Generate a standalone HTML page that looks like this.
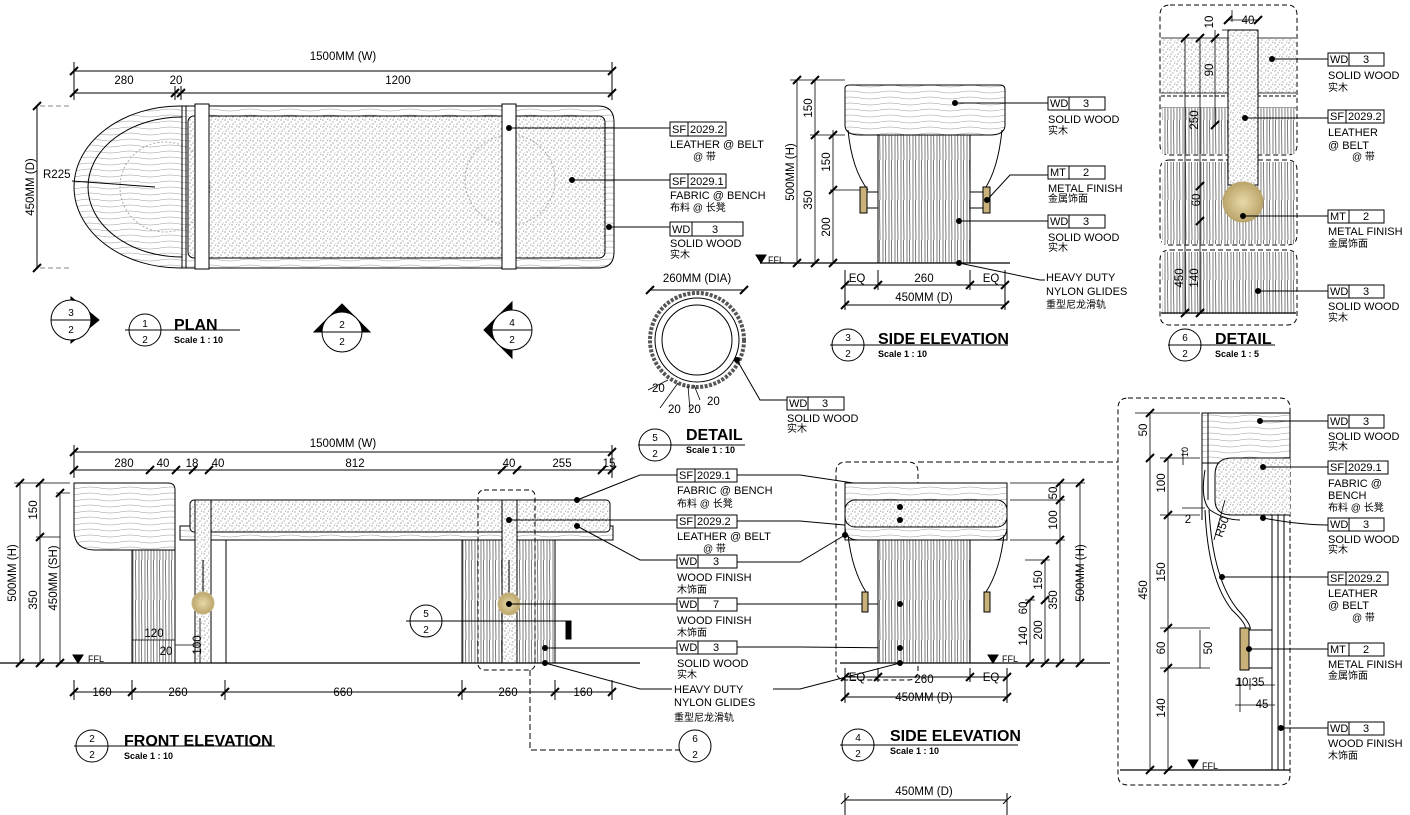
<!DOCTYPE html>
<html><head><meta charset="utf-8"><style>
html,body{margin:0;padding:0;background:#fff;}
svg{display:block;font-family:"Liberation Sans","Noto Sans CJK SC",sans-serif;}
.t{font-size:11px;fill:#000}
.c{font-size:10px;fill:#000}
.d{font-size:11.5px;fill:#000}
.h{font-size:16px;font-weight:bold;fill:#000}
.s{font-size:9px;font-weight:bold;fill:#000}
</style></head><body>
<svg width="1410" height="815" viewBox="0 0 1410 815" xmlns="http://www.w3.org/2000/svg">
<defs>
<pattern id="st" width="7" height="7" patternUnits="userSpaceOnUse">
<rect width="7" height="7" fill="#fff"/>
<circle cx="1" cy="1" r="0.6" fill="#777"/><circle cx="4" cy="3" r="0.6" fill="#888"/><circle cx="2" cy="5" r="0.6" fill="#777"/><circle cx="6" cy="6" r="0.5" fill="#999"/><circle cx="5.5" cy="0.5" r="0.5" fill="#999"/>
</pattern>
<pattern id="vg" width="6" height="40" patternUnits="userSpaceOnUse">
<rect width="6" height="40" fill="#fff"/><path d="M1 0V40M3.5 0L4 40" stroke="#444" stroke-width="0.7"/>
</pattern>
<pattern id="hg" width="40" height="6" patternUnits="userSpaceOnUse">
<rect width="40" height="6" fill="#fff"/><path d="M0 2Q10 0 20 2T40 2" stroke="#999" stroke-width="0.6" fill="none"/>
</pattern>
<radialGradient id="br"><stop offset="0" stop-color="#e8d9a8"/><stop offset="1" stop-color="#bba56a"/></radialGradient>
</defs>
<g stroke="#000" stroke-width="1" fill="none">

<!-- ============ PLAN ============ -->
<path d="M74 71H612M74 93H612M74 62V100M612 62V100M175 86V100M181 86V100"/>
<path d="M70 75L78 67M608 75L616 67M70 97L78 89M608 97L616 89M171 97L179 89M177 97L185 89" stroke-width="2"/>
<path d="M37 106V268"/>
<path d="M33 110L41 102M33 272L41 264" stroke-width="2"/>
<path d="M40 106H72M40 268H72" stroke-dasharray="5 3" stroke="#888"/>
<path d="M180 106H598Q614 106 614 122V252Q614 268 598 268H180A106 81 0 0 1 180 106Z" fill="url(#hg)"/>
<path d="M182 117A94 70 0 0 0 182 257" />
<rect x="188" y="116" width="417" height="142" rx="6" fill="url(#st)"/>
<circle cx="510" cy="180" r="45" stroke="#aaa" stroke-dasharray="2 2"/>
<circle cx="165" cy="187" r="45" stroke="#aaa" stroke-dasharray="2 2"/>
<path d="M182 106V268M186 106V268"/>
<rect x="195" y="104" width="14" height="165" fill="#fff"/>
<rect x="502" y="104" width="14" height="165" fill="#fff"/>
<path d="M72 181L155 187"/>
<path d="M509 128H670M572 180H670M609 227H670"/>
<circle cx="509" cy="128" r="2.5" fill="#000"/><circle cx="572" cy="180" r="2.5" fill="#000"/><circle cx="609" cy="227" r="2.5" fill="#000"/>

<!-- markers -->
<path d="M71 297L99 320L71 343Z" fill="#000"/>
<circle cx="71" cy="320" r="20" fill="#fff"/><path d="M51 320H91"/>
<circle cx="145" cy="330" r="16"/><path d="M125 330H240"/>
<path d="M314 332L342 304L370 332Z" fill="#000"/><circle cx="342" cy="332" r="20" fill="#fff"/><path d="M322 332H362"/>
<path d="M484 330L512 302V358Z" fill="#000"/><circle cx="512" cy="330" r="20" fill="#fff"/><path d="M492 330H532"/>

<!-- ============ DETAIL 5 ============ -->
<path d="M650 290H744"/>
<path d="M646 294L654 286M740 294L748 286" stroke-width="2"/>
<circle cx="697" cy="340" r="47" stroke-width="4" stroke="#555" stroke-dasharray="3 1.5"/>
<circle cx="697" cy="340" r="42"/>
<circle cx="697" cy="340" r="35"/>
<path d="M737 360L760 400H787"/><circle cx="737" cy="360" r="2.5" fill="#000"/>
<path d="M648 390L668 380M660 408L678 383M690 410L688 386M700 400L694 385" stroke-width="0.8"/>
<circle cx="655" cy="445" r="16"/><path d="M638 445H745"/>

<!-- ============ SIDE ELEVATION 3 ============ -->
<path d="M797 80V263M815 80V263M833 130V263M790 80H845M810 135H845M830 190H860" stroke-width="0.8"/>
<path d="M793 84L801 76M811 84L819 76M811 139L819 131M829 139L837 131M829 194L837 186M793 267L801 259M811 267L819 259M829 267L837 259" stroke-width="2"/>
<path d="M845 88Q845 85 850 85H1000Q1005 85 1005 90V125Q1005 135 990 135H860Q845 135 845 125Z" fill="url(#hg)"/>
<rect x="878" y="135" width="92" height="128" fill="url(#vg)"/>
<path d="M848 130Q852 170 868 190M1002 130Q998 170 984 190"/>
<rect x="860" y="187" width="7" height="26" fill="#c8b27a"/><rect x="983" y="187" width="7" height="26" fill="#c8b27a"/>
<path d="M867 192H878M867 208H878M970 192H983M970 208H983"/>
<path d="M760 263H1010" stroke-width="1.2"/>
<path d="M756 255H766L761 263Z" fill="#000"/>
<path d="M845 285H1005M845 305H1005M845 270V310M878 270V290M970 270V290M1005 270V310"/>
<path d="M841 289L849 281M874 289L882 281M966 289L974 281M1001 289L1009 281M841 309L849 301M1001 309L1009 301" stroke-width="2"/>
<path d="M955 103H1048M987 200L1010 175H1048M959 221H1048M959 263L1040 280H1045"/>
<circle cx="955" cy="103" r="2.5" fill="#000"/><circle cx="987" cy="200" r="2.5" fill="#000"/><circle cx="959" cy="221" r="2.5" fill="#000"/><circle cx="959" cy="263" r="2.5" fill="#000"/>
<circle cx="848" cy="345" r="16"/><path d="M830 345H1008"/>

<!-- ============ DETAIL 6 (top right) ============ -->
<path d="M1170 5H1287Q1297 5 1297 15V145Q1297 155 1287 155H1170Q1160 155 1160 145V15Q1160 5 1170 5Z" stroke-dasharray="5 3"/>
<path d="M1170 160H1287Q1297 160 1297 170V235Q1297 245 1287 245H1170Q1160 245 1160 235V170Q1160 160 1170 160Z" stroke-dasharray="5 3"/>
<path d="M1170 250H1287Q1297 250 1297 260V315Q1297 325 1287 325H1170Q1160 325 1160 315V260Q1160 250 1170 250Z" stroke-dasharray="5 3"/>
<rect x="1161" y="38" width="135" height="55" fill="url(#st)" stroke="none"/>
<path d="M1161 38H1296M1161 93H1296M1161 108H1296" stroke-width="0.8"/>
<path d="M1161 96H1296" stroke-dasharray="4 2"/>
<rect x="1162" y="108" width="133" height="46" fill="url(#vg)" stroke="none"/>
<rect x="1162" y="162" width="133" height="82" fill="url(#vg)" stroke="none"/>
<rect x="1162" y="252" width="133" height="62" fill="url(#vg)" stroke="none"/>
<path d="M1161 313H1296" stroke-width="1.2"/>
<rect x="1228" y="30" width="30" height="155" fill="url(#st)"/>
<circle cx="1243" cy="202" r="20" fill="url(#br)" stroke="#b9a36b"/>
<path d="M1185 38V313M1200 38V313M1215 30V125M1222 30H1258M1232 10V22M1228 20H1258" stroke-width="0.8"/>
<path d="M1181 42L1189 34M1196 42L1204 34M1211 42L1219 34M1211 129L1219 121M1196 190L1204 182M1196 225L1204 217M1181 317L1189 309M1196 317L1204 309M1224 24L1232 16M1254 24L1262 16" stroke-width="2"/>
<path d="M1272 59H1328M1245 118H1328M1243 216H1328M1258 291H1328"/>
<circle cx="1272" cy="59" r="2.5" fill="#000"/><circle cx="1245" cy="118" r="2.5" fill="#000"/><circle cx="1243" cy="216" r="2.5" fill="#000"/><circle cx="1258" cy="291" r="2.5" fill="#000"/>
<circle cx="1185" cy="345" r="16"/><path d="M1168 345H1275"/>

<!-- ============ FRONT ELEVATION ============ -->
<path d="M74 452H612M74 470H612M74 445V478M612 445V478"/>
<path d="M70 456L78 448M608 456L616 448M70 474L78 466M146 474L154 466M172 474L180 466M189 474L197 466M205 474L213 466M498 474L506 466M513 474L521 466M598 474L606 466M608 474L616 466" stroke-width="2"/>
<path d="M20 483V663M40 483V663M60 493V663M14 483H70M36 537H60M56 493H70" stroke-width="0.8"/>
<path d="M16 487L24 479M36 487L44 479M36 541L44 533M56 497L64 489M16 667L24 659M36 667L44 659M56 667L64 659" stroke-width="2"/>
<path d="M74 483H168Q175 483 175 490V550H95Q74 550 74 530Z" fill="url(#hg)"/>
<path d="M175 540V635" />
<rect x="132" y="550" width="43" height="113" fill="url(#vg)"/>
<rect x="180" y="526" width="433" height="14" fill="url(#hg)"/>
<rect x="190" y="500" width="420" height="32" rx="4" fill="url(#st)"/>
<path d="M211 540V663M226 540V663"/>
<rect x="462" y="540" width="93" height="123" fill="url(#vg)"/>
<rect x="195" y="500" width="16" height="163" fill="url(#st)"/>
<rect x="502" y="500" width="15" height="163" fill="url(#st)"/>
<path d="M203 560V600M509 560V600"/>
<circle cx="203" cy="603" r="11" fill="url(#br)" stroke="#c9b787"/>
<circle cx="509" cy="604" r="11" fill="url(#br)" stroke="#c9b787"/>
<rect x="478" y="490" width="57" height="180" rx="6" stroke-dasharray="5 3"/>
<path d="M0 663H640" stroke-width="1.2"/>
<path d="M73 655H83L78 663Z" fill="#000"/>
<path d="M132 640H175M175 645H200M200 618V663" stroke-width="0.8"/>
<path d="M74 692H612M74 680V700M132 680V700M225 680V700M462 680V700M555 680V700M612 680V700" />
<path d="M70 696L78 688M128 696L136 688M221 696L229 688M458 696L466 688M551 696L559 688M608 696L616 688" stroke-width="2"/>
<circle cx="426" cy="621" r="16"/><path d="M406 621H570"/><rect x="566" y="621" width="5" height="18" fill="#000"/>
<path d="M530 670V750H680" stroke-dasharray="6 3"/>
<circle cx="695" cy="746" r="16"/>
<circle cx="92" cy="746" r="16"/><path d="M74 746H275"/>
<path d="M577 500L640 475H677M509 520H677M577 526L640 560H677M509 604H677M545 648H677M545 663L640 689H672"/>
<path d="M737 475H800L900 490M737 521H800L900 530M737 562H800L845 535M737 604H800L900 604M737 647H800L900 648M773 689H800L900 663"/>
<circle cx="577" cy="500" r="2.5" fill="#000"/><circle cx="509" cy="520" r="2.5" fill="#000"/><circle cx="577" cy="526" r="2.5" fill="#000"/><circle cx="509" cy="604" r="2.5" fill="#000"/><circle cx="545" cy="648" r="2.5" fill="#000"/><circle cx="545" cy="663" r="2.5" fill="#000"/>

<!-- ============ SIDE ELEVATION 4 ============ -->
<path d="M846 462H908Q918 462 918 472V670Q918 680 908 680H846Q836 680 836 670V472Q836 462 846 462Z" stroke-dasharray="5 3"/>
<path d="M918 462H1118" stroke-dasharray="6 3"/>
<rect x="845" y="483" width="162" height="57" fill="url(#hg)"/>
<rect x="845" y="500" width="162" height="27" rx="10" fill="url(#st)"/>
<path d="M845 527Q845 540 858 540H994Q1007 540 1007 527"/>
<rect x="878" y="540" width="92" height="123" fill="url(#vg)"/>
<path d="M848 535Q852 570 866 592M1004 535Q1000 570 986 592"/>
<rect x="862" y="592" width="6" height="20" fill="#c8b27a"/><rect x="984" y="592" width="6" height="20" fill="#c8b27a"/>
<path d="M840 663H1110" stroke-width="1.2"/>
<path d="M988 655H998L993 663Z" fill="#000"/>
<circle cx="900" cy="520" r="2.5" fill="#000"/><circle cx="900" cy="507" r="2.5" fill="#000"/><circle cx="845" cy="535" r="2.5" fill="#000"/><circle cx="900" cy="604" r="2.5" fill="#000"/><circle cx="900" cy="648" r="2.5" fill="#000"/><circle cx="900" cy="663" r="2.5" fill="#000"/>
<path d="M1030 600V663M1045 560V663M1060 483V663M1080 483V663M1010 483H1085M1010 500H1065M1010 540H1065M1025 560H1050M1025 600H1035" stroke-width="0.8"/>
<path d="M1026 604L1034 596M1041 564L1049 556M1041 604L1049 596M1056 487L1064 479M1056 504L1064 496M1056 544L1064 536M1076 487L1084 479M1026 667L1034 659M1041 667L1049 659M1056 667L1064 659M1076 667L1084 659" stroke-width="2"/>
<path d="M845 677H1007M845 697H1007M845 668V703M878 668V682M970 668V682M1007 668V703"/>
<path d="M841 681L849 673M874 681L882 673M966 681L974 673M1003 681L1011 673M841 701L849 693M1003 701L1011 693" stroke-width="2"/>
<circle cx="858" cy="745" r="16"/><path d="M840 745H1018"/>
<path d="M845 800H1007M845 793V815M1007 793V815M841 804L849 796M1003 804L1011 796"/>

<!-- ============ BIG DETAIL (right bottom) ============ -->
<path d="M1128 398H1280Q1290 398 1290 408V775Q1290 785 1280 785H1128Q1118 785 1118 775V408Q1118 398 1128 398Z" stroke-dasharray="5 3"/>
<rect x="1202" y="413" width="88" height="50" fill="url(#hg)"/>
<path d="M1202 413V520M1208 413V500"/>
<path d="M1290 458H1232Q1215 458 1215 475V500Q1215 515 1232 515H1290" fill="url(#st)"/>
<path d="M1205 470Q1200 500 1210 510Q1225 520 1240 520"/>
<path d="M1205 510Q1208 580 1232 610Q1248 625 1245 630"/>
<path d="M1209 510Q1213 580 1238 610Q1252 625 1250 630"/>
<rect x="1240" y="628" width="9" height="42" fill="#c8b27a"/>
<path d="M1249 630H1272V668H1249"/>
<path d="M1272 515V770M1278 515V770M1284 515V770"/>
<path d="M1120 770H1290" stroke-width="1.2"/>
<path d="M1188 760H1198L1193 768Z" fill="#000"/>
<path d="M1150 413V770M1168 458V770M1135 413H1200M1160 458H1200M1160 515H1200M1160 628H1210M1160 668H1210M1182 508H1205M1183 450V465M1200 630V668" stroke-width="0.8"/>
<path d="M1146 417L1154 409M1146 462L1154 454M1164 462L1172 454M1164 519L1172 511M1164 632L1172 624M1164 672L1172 664M1146 774L1154 766M1164 774L1172 766" stroke-width="2"/>
<path d="M1235 685H1275M1235 705H1275M1240 678V712M1250 678V690M1272 678V712" stroke-width="0.8"/>
<path d="M1214 540L1225 500" stroke-width="0.8"/>
<path d="M1260 421H1328M1263 467H1328M1263 518Q1300 525 1328 525M1222 577H1328M1249 649H1328M1281 728H1328"/>
<circle cx="1260" cy="421" r="2.5" fill="#000"/><circle cx="1263" cy="467" r="2.5" fill="#000"/><circle cx="1263" cy="518" r="2.5" fill="#000"/><circle cx="1222" cy="577" r="2.5" fill="#000"/><circle cx="1249" cy="649" r="2.5" fill="#000"/><circle cx="1281" cy="728" r="2.5" fill="#000"/>

<!-- callout boxes -->
<g stroke-width="1">
<rect x="670" y="122" width="56" height="14"/><path d="M688 122V136"/>
<rect x="670" y="174" width="56" height="14"/><path d="M688 174V188"/>
<rect x="670" y="222" width="73" height="14"/><path d="M692 222V236"/>
<rect x="787" y="397" width="57" height="13"/><path d="M808 397V410"/>
<rect x="1048" y="97" width="57" height="13"/><path d="M1069 97V110"/>
<rect x="1048" y="166" width="57" height="13"/><path d="M1069 166V179"/>
<rect x="1048" y="215" width="57" height="13"/><path d="M1069 215V228"/>
<rect x="1328" y="53" width="56" height="13"/><path d="M1349 53V66"/>
<rect x="1328" y="110" width="56" height="13"/><path d="M1346 110V123"/>
<rect x="1328" y="210" width="56" height="13"/><path d="M1349 210V223"/>
<rect x="1328" y="285" width="56" height="13"/><path d="M1349 285V298"/>
<rect x="677" y="469" width="60" height="13"/><path d="M695 469V482"/>
<rect x="677" y="515" width="60" height="13"/><path d="M695 515V528"/>
<rect x="677" y="555" width="60" height="13"/><path d="M698 555V568"/>
<rect x="677" y="598" width="60" height="13"/><path d="M698 598V611"/>
<rect x="677" y="641" width="60" height="13"/><path d="M698 641V654"/>
<rect x="1328" y="415" width="56" height="13"/><path d="M1349 415V428"/>
<rect x="1328" y="461" width="60" height="13"/><path d="M1346 461V474"/>
<rect x="1328" y="518" width="56" height="13"/><path d="M1349 518V531"/>
<rect x="1328" y="572" width="60" height="13"/><path d="M1346 572V585"/>
<rect x="1328" y="643" width="56" height="13"/><path d="M1349 643V656"/>
<rect x="1328" y="722" width="56" height="13"/><path d="M1349 722V735"/>
</g>
</g>

<!-- ======== TEXT ======== -->
<g class="d">
<text x="343" y="60" text-anchor="middle">1500MM (W)</text>
<text x="124" y="84" text-anchor="middle">280</text><text x="176" y="84" text-anchor="middle">20</text><text x="398" y="84" text-anchor="middle">1200</text>
<text transform="translate(34,187) rotate(-90)" text-anchor="middle">450MM (D)</text>
<text x="43" y="178">R225</text>
<text x="697" y="282" text-anchor="middle">260MM (DIA)</text>
<text x="652" y="392">20</text><text x="668" y="413">20</text><text x="688" y="413">20</text><text x="707" y="405">20</text>
<text x="343" y="447" text-anchor="middle">1500MM (W)</text>
<text x="124" y="467" text-anchor="middle">280</text><text x="163" y="467" text-anchor="middle">40</text><text x="192" y="467" text-anchor="middle">18</text><text x="218" y="467" text-anchor="middle">40</text><text x="355" y="467" text-anchor="middle">812</text><text x="509" y="467" text-anchor="middle">40</text><text x="562" y="467" text-anchor="middle">255</text><text x="609" y="467" text-anchor="middle">15</text>
<text x="102" y="696" text-anchor="middle">160</text><text x="178" y="696" text-anchor="middle">260</text><text x="343" y="696" text-anchor="middle">660</text><text x="508" y="696" text-anchor="middle">260</text><text x="583" y="696" text-anchor="middle">160</text>
<text x="154" y="637" text-anchor="middle">120</text><text x="166" y="655" text-anchor="middle">20</text>
<text transform="translate(201,645) rotate(-90)" text-anchor="middle">100</text>
<text transform="translate(16,573) rotate(-90)" text-anchor="middle">500MM (H)</text>
<text transform="translate(37,510) rotate(-90)" text-anchor="middle">150</text>
<text transform="translate(37,600) rotate(-90)" text-anchor="middle">350</text>
<text transform="translate(57,578) rotate(-90)" text-anchor="middle">450MM (SH)</text>
<text transform="translate(794,172) rotate(-90)" text-anchor="middle">500MM (H)</text>
<text transform="translate(812,108) rotate(-90)" text-anchor="middle">150</text>
<text transform="translate(812,200) rotate(-90)" text-anchor="middle">350</text>
<text transform="translate(830,162) rotate(-90)" text-anchor="middle">150</text>
<text transform="translate(830,227) rotate(-90)" text-anchor="middle">200</text>
<text x="857" y="282" text-anchor="middle">EQ</text><text x="924" y="282" text-anchor="middle">260</text><text x="991" y="282" text-anchor="middle">EQ</text>
<text x="924" y="301" text-anchor="middle">450MM (D)</text>
<text x="857" y="681" text-anchor="middle">EQ</text><text x="924" y="683" text-anchor="middle">260</text><text x="991" y="681" text-anchor="middle">EQ</text>
<text x="924" y="701" text-anchor="middle">450MM (D)</text>
<text x="924" y="795" text-anchor="middle">450MM (D)</text>
<text transform="translate(1027,608) rotate(-90)" text-anchor="middle">60</text>
<text transform="translate(1027,636) rotate(-90)" text-anchor="middle">140</text>
<text transform="translate(1042,580) rotate(-90)" text-anchor="middle">150</text>
<text transform="translate(1042,630) rotate(-90)" text-anchor="middle">200</text>
<text transform="translate(1057,493) rotate(-90)" text-anchor="middle">50</text>
<text transform="translate(1057,520) rotate(-90)" text-anchor="middle">100</text>
<text transform="translate(1057,600) rotate(-90)" text-anchor="middle">350</text>
<text transform="translate(1084,573) rotate(-90)" text-anchor="middle">500MM (H)</text>
<text x="1248" y="24" text-anchor="middle">40</text>
<text transform="translate(1213,22) rotate(-90)" text-anchor="middle">10</text>
<text transform="translate(1213,70) rotate(-90)" text-anchor="middle">90</text>
<text transform="translate(1198,120) rotate(-90)" text-anchor="middle">250</text>
<text transform="translate(1200,200) rotate(-90)" text-anchor="middle">60</text>
<text transform="translate(1183,278) rotate(-90)" text-anchor="middle">450</text>
<text transform="translate(1198,278) rotate(-90)" text-anchor="middle">140</text>
<text transform="translate(1147,430) rotate(-90)" text-anchor="middle">50</text>
<text transform="translate(1147,590) rotate(-90)" text-anchor="middle">450</text>
<text transform="translate(1165,483) rotate(-90)" text-anchor="middle">100</text>
<text transform="translate(1165,572) rotate(-90)" text-anchor="middle">150</text>
<text transform="translate(1165,648) rotate(-90)" text-anchor="middle">60</text>
<text transform="translate(1165,708) rotate(-90)" text-anchor="middle">140</text>
<text transform="translate(1188,452) rotate(-90)" text-anchor="middle" font-size="9">10</text>
<text transform="translate(1212,648) rotate(-90)" text-anchor="middle">50</text>
<text x="1188" y="523" text-anchor="middle">2</text>
<text transform="translate(1222,538) rotate(-70)">R50</text>
<text x="1250" y="686" text-anchor="middle">10 35</text>
<text x="1262" y="708" text-anchor="middle">45</text>
</g>
<g font-size="9" font-family="Liberation Sans,sans-serif">
<text x="88" y="662">FFL</text><text x="768" y="263">FFL</text><text x="1002" y="662">FFL</text><text x="1202" y="769">FFL</text>
</g>
<g class="h">
<text x="174" y="330">PLAN</text>
<text x="686" y="440">DETAIL</text>
<text x="878" y="344">SIDE ELEVATION</text>
<text x="1215" y="344">DETAIL</text>
<text x="124" y="746">FRONT ELEVATION</text>
<text x="890" y="741">SIDE ELEVATION</text>
</g>
<g class="s">
<text x="174" y="343">Scale 1 : 10</text>
<text x="686" y="453">Scale 1 : 10</text>
<text x="878" y="357">Scale 1 : 10</text>
<text x="1215" y="357">Scale 1 : 5</text>
<text x="124" y="759">Scale 1 : 10</text>
<text x="890" y="754">Scale 1 : 10</text>
</g>
<g font-size="10" text-anchor="middle" fill="#000">
<text x="71" y="316">3</text><text x="71" y="333">2</text>
<text x="145" y="327">1</text><text x="145" y="343">2</text>
<text x="342" y="328">2</text><text x="342" y="345">2</text>
<text x="512" y="326">4</text><text x="512" y="343">2</text>
<text x="655" y="441">5</text><text x="655" y="457">2</text>
<text x="848" y="341">3</text><text x="848" y="357">2</text>
<text x="1185" y="341">6</text><text x="1185" y="357">2</text>
<text x="92" y="742">2</text><text x="92" y="758">2</text>
<text x="426" y="617">5</text><text x="426" y="633">2</text>
<text x="695" y="742">6</text><text x="695" y="758">2</text>
<text x="858" y="741">4</text><text x="858" y="757">2</text>
</g>
<g class="t">
<text x="672" y="133">SF</text><text x="690" y="133">2029.2</text>
<text x="670" y="148">LEATHER @ BELT</text><text class="c" x="693" y="160">@ 带</text>
<text x="672" y="185">SF</text><text x="690" y="185">2029.1</text>
<text x="670" y="199">FABRIC @ BENCH</text><text class="c" x="670" y="211">布料 @ 长凳</text>
<text x="672" y="233">WD</text><text x="712" y="233">3</text>
<text x="670" y="247">SOLID WOOD</text><text class="c" x="670" y="258">实木</text>
<text x="789" y="407">WD</text><text x="822" y="407">3</text>
<text x="787" y="422">SOLID WOOD</text><text class="c" x="787" y="432">实木</text>
<text x="1050" y="107">WD</text><text x="1083" y="107">3</text>
<text x="1048" y="123">SOLID WOOD</text><text class="c" x="1048" y="134">实木</text>
<text x="1050" y="176">MT</text><text x="1083" y="176">2</text>
<text x="1048" y="192">METAL FINISH</text><text class="c" x="1048" y="202">金属饰面</text>
<text x="1050" y="225">WD</text><text x="1083" y="225">3</text>
<text x="1048" y="241">SOLID WOOD</text><text class="c" x="1048" y="251">实木</text>
<text x="1046" y="281">HEAVY DUTY</text><text x="1046" y="295">NYLON GLIDES</text><text class="c" x="1046" y="308">重型尼龙滑轨</text>
<text x="1330" y="63">WD</text><text x="1363" y="63">3</text>
<text x="1328" y="79">SOLID WOOD</text><text class="c" x="1328" y="91">实木</text>
<text x="1330" y="120">SF</text><text x="1348" y="120">2029.2</text>
<text x="1328" y="136">LEATHER</text><text x="1328" y="149">@ BELT</text><text class="c" x="1352" y="160">@ 带</text>
<text x="1330" y="220">MT</text><text x="1363" y="220">2</text>
<text x="1328" y="235">METAL FINISH</text><text class="c" x="1328" y="247">金属饰面</text>
<text x="1330" y="295">WD</text><text x="1363" y="295">3</text>
<text x="1328" y="310">SOLID WOOD</text><text class="c" x="1328" y="321">实木</text>
<text x="679" y="479">SF</text><text x="697" y="479">2029.1</text>
<text x="677" y="494">FABRIC @ BENCH</text><text class="c" x="677" y="507">布料 @ 长凳</text>
<text x="679" y="525">SF</text><text x="697" y="525">2029.2</text>
<text x="677" y="540">LEATHER @ BELT</text><text class="c" x="703" y="552">@ 带</text>
<text x="679" y="565">WD</text><text x="713" y="565">3</text>
<text x="677" y="581">WOOD FINISH</text><text class="c" x="677" y="593">木饰面</text>
<text x="679" y="608">WD</text><text x="713" y="608">7</text>
<text x="677" y="624">WOOD FINISH</text><text class="c" x="677" y="636">木饰面</text>
<text x="679" y="651">WD</text><text x="713" y="651">3</text>
<text x="677" y="667">SOLID WOOD</text><text class="c" x="677" y="678">实木</text>
<text x="674" y="693">HEAVY DUTY</text><text x="674" y="706">NYLON GLIDES</text><text class="c" x="674" y="721">重型尼龙滑轨</text>
<text x="1330" y="425">WD</text><text x="1363" y="425">3</text>
<text x="1328" y="440">SOLID WOOD</text><text class="c" x="1328" y="450">实木</text>
<text x="1330" y="471">SF</text><text x="1348" y="471">2029.1</text>
<text x="1328" y="487">FABRIC @</text><text x="1328" y="499">BENCH</text><text class="c" x="1328" y="511">布料 @ 长凳</text>
<text x="1330" y="528">WD</text><text x="1363" y="528">3</text>
<text x="1328" y="543">SOLID WOOD</text><text class="c" x="1328" y="553">实木</text>
<text x="1330" y="582">SF</text><text x="1348" y="582">2029.2</text>
<text x="1328" y="597">LEATHER</text><text x="1328" y="609">@ BELT</text><text class="c" x="1352" y="621">@ 带</text>
<text x="1330" y="653">MT</text><text x="1363" y="653">2</text>
<text x="1328" y="668">METAL FINISH</text><text class="c" x="1328" y="679">金属饰面</text>
<text x="1330" y="732">WD</text><text x="1363" y="732">3</text>
<text x="1328" y="747">WOOD FINISH</text><text class="c" x="1328" y="759">木饰面</text>
</g>
</svg>
</body></html>
